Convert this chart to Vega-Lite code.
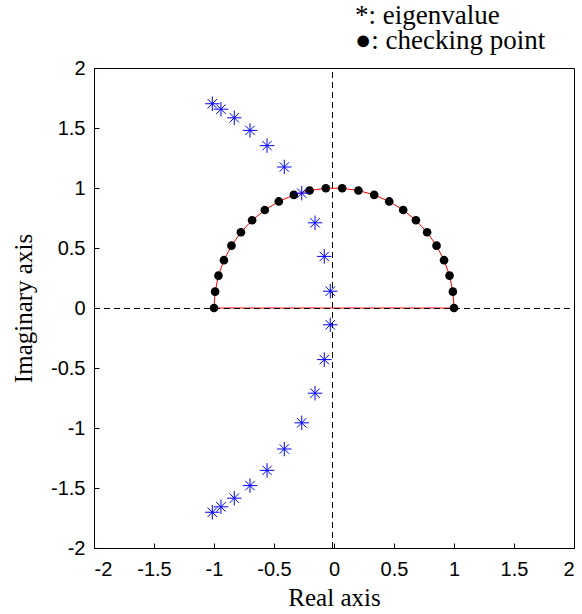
{
  "$schema": "https://vega.github.io/schema/vega-lite/v6.json",
  "width": 480,
  "height": 480,
  "autosize": {"type": "none"},
  "padding": {"left": 94, "top": 68, "right": 8, "bottom": 66},
  "background": "white",
  "title": {
    "text": ["*: eigenvalue", "●: checking point"],
    "anchor": "start",
    "frame": "group",
    "align": "left",
    "dx": 261,
    "offset": 3,
    "font": "Liberation Serif",
    "fontSize": 27,
    "fontWeight": "normal",
    "lineHeight": 25,
    "color": "black"
  },
  "datasets": {
    "eig": [
      {"re": -1.014, "im": 1.702}, {"re": -0.942, "im": 1.657}, {"re": -0.831, "im": 1.585},
      {"re": -0.700, "im": 1.480}, {"re": -0.558, "im": 1.353}, {"re": -0.414, "im": 1.175},
      {"re": -0.269, "im": 0.957}, {"re": -0.158, "im": 0.710}, {"re": -0.081, "im": 0.430},
      {"re": -0.031, "im": 0.140},
      {"re": -1.014, "im": -1.702}, {"re": -0.942, "im": -1.657}, {"re": -0.831, "im": -1.585},
      {"re": -0.700, "im": -1.480}, {"re": -0.558, "im": -1.353}, {"re": -0.414, "im": -1.175},
      {"re": -0.269, "im": -0.957}, {"re": -0.158, "im": -0.710}, {"re": -0.081, "im": -0.430},
      {"re": -0.031, "im": -0.140}
    ],
    "chk": [
      {"re": 1, "im": 0}, {"re": 0.9907, "im": 0.1362}, {"re": 0.9629, "im": 0.2698},
      {"re": 0.9172, "im": 0.3984}, {"re": 0.8544, "im": 0.5196}, {"re": 0.7757, "im": 0.6311},
      {"re": 0.6825, "im": 0.7309}, {"re": 0.5766, "im": 0.8170}, {"re": 0.4600, "im": 0.8879},
      {"re": 0.3349, "im": 0.9423}, {"re": 0.2035, "im": 0.9791}, {"re": 0.0682, "im": 0.9977},
      {"re": -0.0682, "im": 0.9977}, {"re": -0.2035, "im": 0.9791}, {"re": -0.3349, "im": 0.9423},
      {"re": -0.4600, "im": 0.8879}, {"re": -0.5766, "im": 0.8170}, {"re": -0.6825, "im": 0.7309},
      {"re": -0.7757, "im": 0.6311}, {"re": -0.8544, "im": 0.5196}, {"re": -0.9172, "im": 0.3984},
      {"re": -0.9629, "im": 0.2698}, {"re": -0.9907, "im": 0.1362}, {"re": -1, "im": 0}
    ],
    "contour": [
      {"k": 0, "re": 1, "im": 0}, {"k": 1, "re": 0.9907, "im": 0.1362}, {"k": 2, "re": 0.9629, "im": 0.2698},
      {"k": 3, "re": 0.9172, "im": 0.3984}, {"k": 4, "re": 0.8544, "im": 0.5196}, {"k": 5, "re": 0.7757, "im": 0.6311},
      {"k": 6, "re": 0.6825, "im": 0.7309}, {"k": 7, "re": 0.5766, "im": 0.8170}, {"k": 8, "re": 0.4600, "im": 0.8879},
      {"k": 9, "re": 0.3349, "im": 0.9423}, {"k": 10, "re": 0.2035, "im": 0.9791}, {"k": 11, "re": 0.0682, "im": 0.9977},
      {"k": 12, "re": -0.0682, "im": 0.9977}, {"k": 13, "re": -0.2035, "im": 0.9791}, {"k": 14, "re": -0.3349, "im": 0.9423},
      {"k": 15, "re": -0.4600, "im": 0.8879}, {"k": 16, "re": -0.5766, "im": 0.8170}, {"k": 17, "re": -0.6825, "im": 0.7309},
      {"k": 18, "re": -0.7757, "im": 0.6311}, {"k": 19, "re": -0.8544, "im": 0.5196}, {"k": 20, "re": -0.9172, "im": 0.3984},
      {"k": 21, "re": -0.9629, "im": 0.2698}, {"k": 22, "re": -0.9907, "im": 0.1362}, {"k": 23, "re": -1, "im": 0},
      {"k": 24, "re": 1, "im": 0}
    ],
    "vline": [{"re": 0, "im": -2, "im2": 2}],
    "hline": [{"re": -2, "re2": 2, "im": 0}]
  },
  "encoding": {
    "x": {
      "field": "re",
      "type": "quantitative",
      "scale": {"domain": [-2, 2], "nice": false, "zero": false},
      "axis": {
        "title": "Real axis",
        "values": [-2, -1.5, -1, -0.5, 0, 0.5, 1, 1.5, 2],
        "labelExpr": "'' + datum.value",
        "labelPadding": 16,
        "titlePadding": 6
      }
    },
    "y": {
      "field": "im",
      "type": "quantitative",
      "scale": {"domain": [-2, 2], "nice": false, "zero": false},
      "axis": {
        "title": "Imaginary axis",
        "values": [-2, -1.5, -1, -0.5, 0, 0.5, 1, 1.5, 2],
        "labelExpr": "'' + datum.value",
        "labelPadding": 14,
        "titlePadding": 14
      }
    }
  },
  "layer": [
    {
      "data": {"name": "contour"},
      "mark": {"type": "line", "color": "#ff0000", "strokeWidth": 1},
      "encoding": {"order": {"field": "k", "type": "quantitative"}}
    },
    {
      "data": {"name": "vline"},
      "mark": {"type": "rule", "color": "black", "strokeWidth": 1, "strokeDash": [6, 4], "xOffset": -1.5},
      "encoding": {"y2": {"field": "im2"}}
    },
    {
      "data": {"name": "hline"},
      "mark": {"type": "rule", "color": "black", "strokeWidth": 1, "strokeDash": [6, 4], "yOffset": 0.5},
      "encoding": {"x2": {"field": "re2"}}
    },
    {
      "data": {"name": "chk"},
      "mark": {"type": "point", "shape": "circle", "filled": true, "color": "black", "opacity": 1, "size": 75}
    },
    {
      "data": {"name": "eig"},
      "mark": {
        "type": "point",
        "shape": "M-1,0L1,0M0,-1L0,1M-0.65,-0.65L0.65,0.65M-0.65,0.65L0.65,-0.65",
        "filled": false,
        "color": "#0000ff",
        "strokeWidth": 1,
        "opacity": 1,
        "size": 210
      }
    }
  ],
  "config": {
    "view": {"stroke": "black", "strokeWidth": 1},
    "axis": {
      "grid": false,
      "domainColor": "black",
      "tickColor": "black",
      "tickSize": -5,
      "labelColor": "black",
      "labelFont": "Liberation Sans",
      "labelFontSize": 20,
      "titleColor": "black",
      "titleFont": "Liberation Serif",
      "titleFontSize": 25,
      "titleFontWeight": "normal"
    }
  }
}
